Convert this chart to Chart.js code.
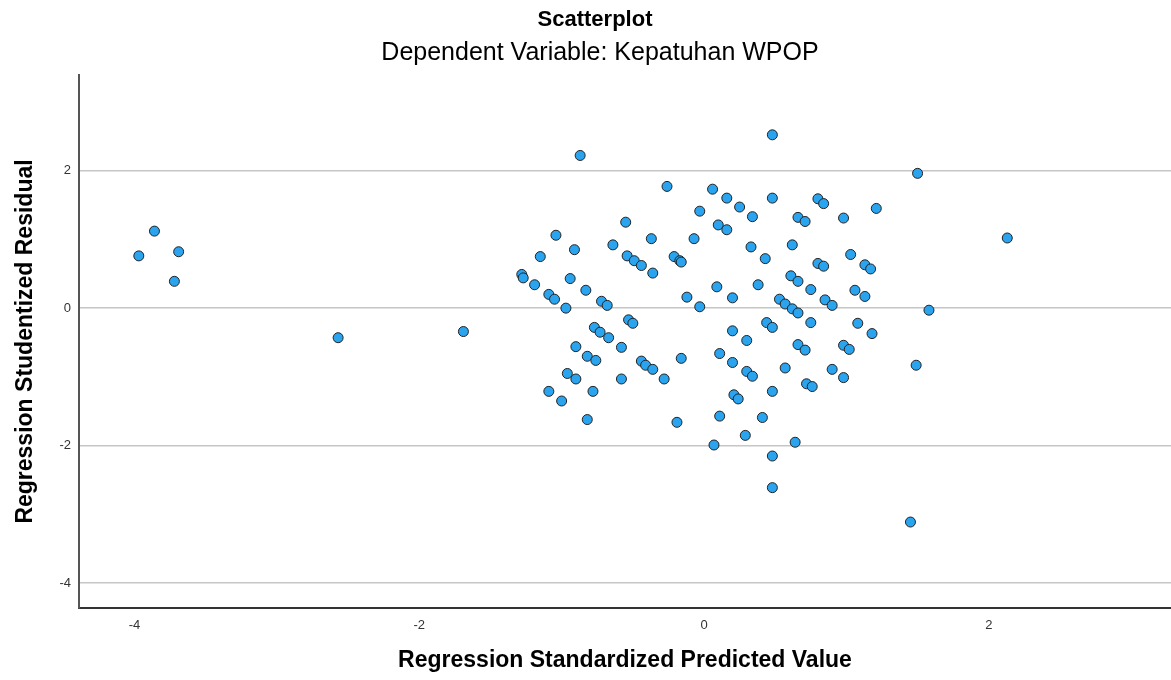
<!DOCTYPE html>
<html>
<head>
<meta charset="utf-8">
<script src="https://cdn.jsdelivr.net/npm/chart.js@4"></script>
<style>
  body { margin: 0; background: #fff; }
  #wrap { width: 1171px; height: 680px; }
</style>
</head>
<body>
<div id="wrap"><canvas id="scatter" width="1171" height="680"></canvas></div>
<script>
// Regression Standardized Predicted Value (x) / Regression Studentized Residual (y)
const predicted = [
  -3.97, -3.86, -3.69, -3.72, -2.57, -1.69,
  -0.87, -0.26, 0.06, 0.16, 0.25, 0.34, -0.03, -0.55, 0.10, 0.16,
  -1.04, -0.37, -0.07, 0.33, -0.91, -0.64, -1.15, -0.54, -0.49, -0.44,
  -0.21, -0.17, -0.16, -0.36, -1.28, -1.27, -1.19, -0.94, -0.83, -1.09,
  -1.05, -0.97, -0.72, -0.68, 0.09, 0.20, -0.12, -0.03, 0.38,
  -0.53, -0.50, -0.77, -0.73, -0.67, -0.90, -0.58, -0.82, -0.76, -0.44,
  -0.41, -0.36, -0.28, -0.16, -0.96, -0.90, -0.58, -1.09, -1.00, -0.78,
  -0.82, -0.19, 0.20, 0.30, 0.11, 0.20, 0.30, 0.34, 0.21, 0.24, 0.11,
  0.29, 0.07, 0.41,
  0.48, 1.50, 0.48, 0.80, 0.84, 0.66, 0.71, 0.98, 1.21, 0.62, 0.43,
  1.03, 0.80, 0.84, 1.13, 1.17, 0.61, 0.66, 0.75, 1.06, 1.13, 0.53,
  0.57, 0.62, 0.66, 0.85, 0.90, 1.58,
  0.44, 0.48, 0.75, 1.08, 1.18, 0.66, 0.71, 0.98, 1.02, 0.57, 0.90,
  0.98, 0.72, 0.76, 1.49, 0.48, 0.64, 0.48, 0.48, 1.45, 2.13
];
const residuals = [
  0.76, 1.12, 0.82, 0.39, -0.43, -0.34,
  2.22, 1.77, 1.73, 1.60, 1.47, 1.33, 1.41, 1.25, 1.21, 1.14,
  1.06, 1.01, 1.01, 0.89, 0.85, 0.92, 0.75, 0.76, 0.69, 0.62,
  0.75, 0.69, 0.67, 0.51, 0.49, 0.44, 0.34, 0.43, 0.26, 0.20,
  0.13, 0.00, 0.10, 0.04, 0.31, 0.15, 0.16, 0.02, 0.34,
  -0.17, -0.22, -0.28, -0.35, -0.43, -0.56, -0.57, -0.70, -0.76, -0.77,
  -0.83, -0.89, -1.03, -0.73, -0.95, -1.03, -1.03, -1.21, -1.35, -1.21,
  -1.62, -1.66, -0.33, -0.47, -0.66, -0.79, -0.92, -0.99, -1.26, -1.32, -1.57,
  -1.85, -1.99, -1.59,
  2.52, 1.96, 1.60, 1.59, 1.52, 1.32, 1.26, 1.31, 1.45, 0.92, 0.72,
  0.78, 0.65, 0.61, 0.63, 0.57, 0.47, 0.39, 0.27, 0.26, 0.17, 0.13,
  0.06, -0.01, -0.07, 0.12, 0.04, -0.03,
  -0.21, -0.28, -0.21, -0.22, -0.37, -0.53, -0.61, -0.54, -0.60, -0.87, -0.89,
  -1.01, -1.10, -1.14, -0.83, -1.21, -1.95, -2.15, -2.61, -3.11, 1.02
];
const xTicks = [-4, -2, 0, 2];
const yTicks = [-4, -2, 0, 2];

const chartTitle = "Scatterplot";
const chartSubtitle = "Dependent Variable: Kepatuhan WPOP";
const xTitle = "Regression Standardized Predicted Value";
const yTitle = "Regression Studentized Residual";

const points = predicted.map((x, i) => ({ x: x, y: residuals[i] }));

// titles sit a little right of the canvas centre, like the original
const headings = {
  id: "headings",
  afterDraw(chart) {
    const ctx = chart.ctx;
    ctx.save();
    ctx.fillStyle = "#000";
    ctx.textAlign = "center";
    ctx.textBaseline = "middle";
    ctx.font = 'bold 22px "Liberation Sans", Arial, sans-serif';
    ctx.fillText(chartTitle, 595, 20);
    ctx.font = '25px "Liberation Sans", Arial, sans-serif';
    ctx.fillText(chartSubtitle, 600, 53);
    ctx.restore();
  }
};

Chart.defaults.font.family = '"Liberation Sans", Arial, sans-serif';

new Chart(document.getElementById("scatter"), {
  type: "scatter",
  data: {
    datasets: [{
      data: points,
      backgroundColor: "#2ba4ef",
      borderColor: "#222",
      borderWidth: 1,
      pointRadius: 5,
      pointHoverRadius: 5
    }]
  },
  options: {
    responsive: false,
    animation: false,
    layout: { autoPadding: false, padding: { top: 75, left: 0, right: 0, bottom: 0 } },
    plugins: {
      legend: { display: false },
      tooltip: { enabled: false }
    },
    scales: {
      x: {
        type: "linear",
        min: -4.39,
        max: 3.28,
        afterBuildTicks: (scale) => { scale.ticks = xTicks.map(v => ({ value: v })); },
        afterFit: (scale) => {
          scale.height = 72;
          scale.paddingLeft = 0;
          scale.paddingRight = 0;
        },
        grid: { display: false, drawTicks: false },
        border: { display: true, color: "#333", width: 2 },
        ticks: { color: "#333", font: { size: 13 }, padding: 10, maxRotation: 0 },
        title: {
          display: true,
          text: xTitle,
          color: "#000",
          font: { size: 23, weight: "bold" },
          padding: { top: 0, bottom: 6 }
        }
      },
      y: {
        type: "linear",
        min: -4.36,
        max: 3.39,
        afterBuildTicks: (scale) => { scale.ticks = yTicks.map(v => ({ value: v })); },
        afterFit: (scale) => {
          scale.width = 79;
          scale.paddingTop = 0;
          scale.paddingBottom = 0;
        },
        grid: { color: "#c6c6c6", lineWidth: 1.5, drawTicks: false },
        border: { display: true, color: "#555", width: 2 },
        ticks: { color: "#333", font: { size: 13 }, padding: 8 },
        title: {
          display: true,
          text: yTitle,
          color: "#000",
          font: { size: 23, weight: "bold" },
          padding: { top: 12, bottom: 0 }
        }
      }
    }
  },
  plugins: [headings]
});
</script>
</body>
</html>
